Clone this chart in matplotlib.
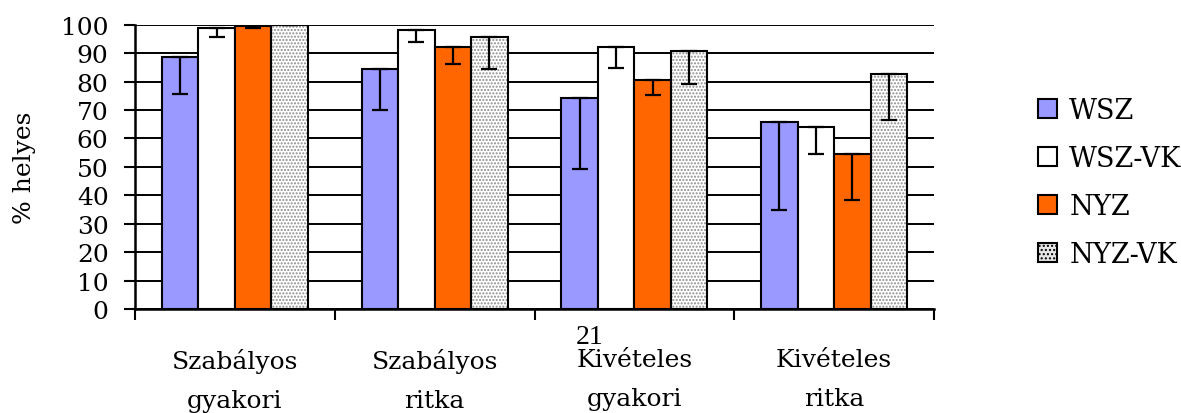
# Bar chart with error bars: % helyes per category and group

import numpy as np
import matplotlib
matplotlib.use('Agg')
import matplotlib.pyplot as plt
from matplotlib.patches import Patch

# Data
categories = ['Szabályos\ngyakori', 'Szabályos\nritka', 'Kivételes\ngyakori', 'Kivételes\nritka']
series = ['WSZ', 'WSZ-VK', 'NYZ', 'NYZ-VK']

wsz = [88.7, 84.5, 74.2, 65.6]
wsz_vk = [98.8, 98.1, 92.2, 64.0]
nyz = [99.6, 92.0, 80.5, 54.5]
nyz_vk = [100.0, 95.5, 90.6, 82.7]

# lower error bar length (only the minus side is drawn)
wsz_err = [12.9, 14.6, 24.9, 30.8]
wsz_vk_err = [3.2, 4.3, 7.6, 9.5]
nyz_err = [0.8, 5.8, 5.4, 16.3]
nyz_vk_err = [0.0, 11.1, 11.3, 16.3]

values = [wsz, wsz_vk, nyz, nyz_vk]
errors = [wsz_err, wsz_vk_err, nyz_err, nyz_vk_err]
colors = ['#9999FF', 'white', '#FF6600', 'white']

plt.rcParams['font.family'] = ['DejaVu Serif']
plt.rcParams['font.size'] = 18

fig = plt.figure(figsize = (11.81, 4.14), dpi = 100)
ax = fig.add_axes([135 / 1181, 104 / 414, 799 / 1181, 284.3 / 414])

x = np.arange(len(categories)) + 0.5
width = 0.1825

for i in range(len(series)):
    pos = x + (i - 1.5) * width
    if series[i] == 'NYZ-VK':
        # dotted fill in grey, then black outline
        ax.bar(pos, values[i], width, color = 'white', edgecolor = '#8c8c8c',
               hatch = '.....', linewidth = 0, zorder = 2)
        ax.bar(pos, values[i], width, fill = False, edgecolor = 'black',
               linewidth = 1.5, zorder = 3)
    else:
        ax.bar(pos, values[i], width, color = colors[i], edgecolor = 'black',
               linewidth = 1.5, zorder = 3)
    ax.errorbar(pos, values[i], yerr = [errors[i], np.zeros(len(errors[i]))],
                fmt = 'none', ecolor = 'black', elinewidth = 1.6, capsize = 6,
                capthick = 1.6, zorder = 4)

ax.set_xlim(0, 4)
ax.set_ylim(0, 100)
ax.set_yticks(np.arange(0, 101, 10))
ax.yaxis.grid(True, color = 'black', linewidth = 1.4)
ax.set_axisbelow(True)

ax.set_xticks(np.arange(0, 5))
ax.set_xticklabels([])
ax.set_xticks(x, minor = True)
ax.set_xticklabels(categories, minor = True, linespacing = 1.9)
ax.tick_params(axis = 'x', which = 'minor', length = 0, pad = 28)
ax.tick_params(axis = 'x', which = 'major', direction = 'out', length = 8, width = 1.5)
ax.tick_params(axis = 'y', direction = 'out', length = 8, width = 1.5, pad = 11)

for s in ['top', 'right']:
    ax.spines[s].set_visible(False)
ax.spines['left'].set_linewidth(1.8)
ax.spines['bottom'].set_linewidth(1.8)

ax.set_ylabel('% helyes', labelpad = 18)

handles = []
for i in range(len(series)):
    if series[i] == 'NYZ-VK':
        handles.append(Patch(facecolor = '#e6e6e6', edgecolor = 'black', hatch = '....', linewidth = 1.5))
    else:
        handles.append(Patch(facecolor = colors[i], edgecolor = 'black', linewidth = 1.5))
fig.legend(handles, series, loc = 'upper left', bbox_to_anchor = (1038 / 1181, 316 / 414),
           frameon = False, handlelength = 0.7, handleheight = 0.7, handletextpad = 0.45,
           labelspacing = 0.78, borderpad = 0, borderaxespad = 0, fontsize = 19.5)

fig.text(590 / 1181, 76 / 414, '21', family = 'Liberation Serif', fontsize = 20,
         ha = 'center', va = 'center')

plt.savefig('out.png', dpi = 100)
